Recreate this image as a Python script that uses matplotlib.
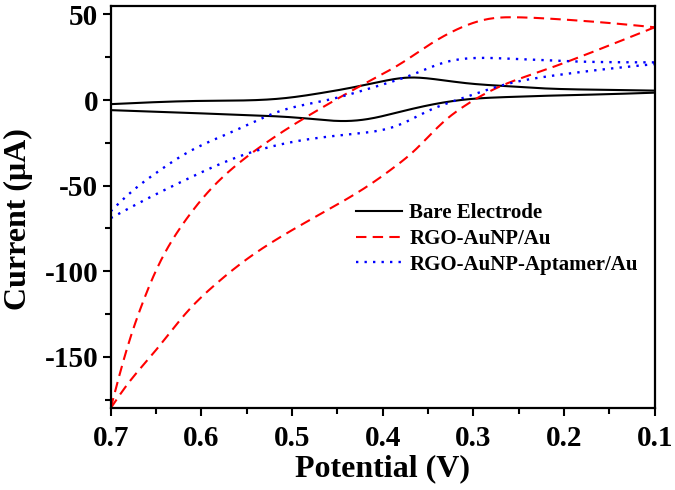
import numpy as np
import matplotlib
matplotlib.use("Agg")
import matplotlib.pyplot as plt
from matplotlib.ticker import MultipleLocator

# Bare Electrode (two branches of the CV loop)
bare_up_v = [0.70, 0.60, 0.51, 0.469, 0.429, 0.40, 0.372, 0.34, 0.307, 0.26, 0.226, 0.16, 0.10]
bare_up_i = [-2.4, -0.5, 1.0, 4.0, 7.8, 11.0, 13.1, 12.0, 9.8, 8.0, 6.9, 6.0, 5.5]
bare_lo_v = [0.70, 0.62, 0.55, 0.49, 0.437, 0.41, 0.388, 0.348, 0.307, 0.26, 0.226, 0.16, 0.10]
bare_lo_i = [-5.9, -7.4, -8.8, -10.5, -12.2, -10.5, -7.8, -2.9, 0.4, 1.8, 2.4, 3.3, 4.3]

# RGO-AuNP/Au
rgo_up_v = [0.70, 0.69, 0.679, 0.663, 0.641, 0.613, 0.586, 0.547, 0.503, 0.459, 0.415,
            0.381, 0.348, 0.315, 0.282, 0.249, 0.20, 0.15, 0.10]
rgo_up_i = [-180, -160, -140, -116, -90, -67, -50, -32, -16, -2, 11,
            21, 32.5, 42, 47.5, 48.3, 47, 45, 42.5]
rgo_lo_v = [0.70, 0.68, 0.65, 0.611, 0.583, 0.55, 0.50, 0.45, 0.413, 0.388, 0.368,
            0.348, 0.328, 0.307, 0.267, 0.226, 0.186, 0.145, 0.10]
rgo_lo_i = [-180, -165, -146, -121, -107, -93, -76, -61, -49, -39.5, -31,
            -20.5, -10.5, -2.5, 8.8, 16.7, 24.5, 33.0, 42.5]

# RGO-AuNP-Aptamer/Au
apt_up_v = [0.70, 0.688, 0.664, 0.651, 0.611, 0.562, 0.51, 0.461, 0.408, 0.368, 0.328, 0.30,
            0.267, 0.186, 0.10]
apt_up_i = [-65, -58.8, -48, -43, -29.4, -17.6, -5.9, 0.0, 7.8, 14.7, 22.5, 24.5,
            24.3, 22.5, 22.0]
apt_lo_v = [0.70, 0.664, 0.619, 0.55, 0.489, 0.429, 0.388, 0.348, 0.307, 0.267, 0.206,
            0.145, 0.10]
apt_lo_i = [-69, -58.8, -47, -31.4, -23.5, -19.6, -15.7, -5.9, 2.0, 8.8, 14.7,
            18.6, 21.0]

labels = ["Bare Electrode", "RGO-AuNP/Au", "RGO-AuNP-Aptamer/Au"]
x_ticks = [0.7, 0.6, 0.5, 0.4, 0.3, 0.2, 0.1]
y_ticks = [50, 0, -50, -100, -150]


def natural_spline(t, p, tt):
    n = len(t)
    h = np.diff(t)
    A = np.zeros((n, n))
    b = np.zeros(n)
    A[0, 0] = 1
    A[-1, -1] = 1
    for k in range(1, n - 1):
        A[k, k - 1] = h[k - 1]
        A[k, k] = 2 * (h[k - 1] + h[k])
        A[k, k + 1] = h[k]
        b[k] = 3 * ((p[k + 1] - p[k]) / h[k] - (p[k] - p[k - 1]) / h[k - 1])
    c = np.linalg.solve(A, b)
    out = np.empty_like(tt)
    idx = np.clip(np.searchsorted(t, tt) - 1, 0, n - 2)
    for m, (j, s) in enumerate(zip(idx, tt)):
        d = s - t[j]
        bj = (p[j + 1] - p[j]) / h[j] - h[j] * (2 * c[j] + c[j + 1]) / 3
        dj = (c[j + 1] - c[j]) / (3 * h[j])
        out[m] = p[j] + bj * d + c[j] * d ** 2 + dj * d ** 3
    return out


def smooth(v, i, n=400):
    v = np.asarray(v, float)
    i = np.asarray(i, float)
    # chord-length parameter in (approximate) display units
    xs = v / 0.6 * 544.0
    ys = i / 50.0 * 85.7
    t = np.concatenate([[0], np.cumsum(np.hypot(np.diff(xs), np.diff(ys)))])
    tt = np.linspace(0, t[-1], n)
    return natural_spline(t, v, tt), natural_spline(t, i, tt)


plt.rcParams['font.family'] = ['Liberation Serif', 'DejaVu Serif']
plt.rcParams['font.weight'] = 'bold'
plt.rcParams['axes.unicode_minus'] = False

fig = plt.figure(figsize=(6.75, 4.9), dpi=100)
ax = fig.add_axes([0.164, 0.167, 0.806, 0.821])

lw = 1.5
x, y = smooth(bare_up_v, bare_up_i)
ax.plot(x, y, color='black', lw=lw, ls='-', label=labels[0])
x, y = smooth(bare_lo_v, bare_lo_i)
ax.plot(x, y, color='black', lw=lw, ls='-')

dash = (0, (5, 3))
x, y = smooth(rgo_up_v, rgo_up_i)
ax.plot(x, y, color='red', lw=lw, ls=dash, label=labels[1])
x, y = smooth(rgo_lo_v, rgo_lo_i)
ax.plot(x, y, color='red', lw=lw, ls=dash)

dot = (0, (1, 2.6))
x, y = smooth(apt_up_v, apt_up_i)
ax.plot(x, y, color='blue', lw=1.7, ls=dot, label=labels[2])
x, y = smooth(apt_lo_v, apt_lo_i)
ax.plot(x, y, color='blue', lw=1.7, ls=dot)

ax.set_xlim(0.7, 0.1)
ax.set_ylim(-180, 55)
ax.set_xticks(x_ticks)
ax.set_xticklabels([f"{t:.1f}" for t in x_ticks])
ax.set_yticks(y_ticks)
ax.xaxis.set_minor_locator(MultipleLocator(0.05))
ax.yaxis.set_minor_locator(MultipleLocator(25))
ax.tick_params(which='both', direction='out', top=False, right=False, width=1.5)
ax.tick_params(which='major', length=6, labelsize=21)
ax.tick_params(axis='x', which='major', pad=6)
ax.tick_params(axis='y', which='major', pad=3)
ax.tick_params(which='minor', length=4)
for s in ax.spines.values():
    s.set_linewidth(1.6)

ax.set_xlabel("Potential (V)", fontsize=23, fontweight='bold', labelpad=2)
ax.set_ylabel("Current (μA)", fontsize=23, fontweight='bold')
ax.yaxis.set_label_coords(-0.142, 0.47)

leg = ax.legend(loc='upper left', bbox_to_anchor=(356 / 675, 1 - 203 / 490),
                bbox_transform=fig.transFigure, frameon=False, fontsize=15,
                handlelength=2.2, handletextpad=0.35, labelspacing=0.28,
                borderpad=0, borderaxespad=0)

fig.savefig("out.png", dpi=100)
